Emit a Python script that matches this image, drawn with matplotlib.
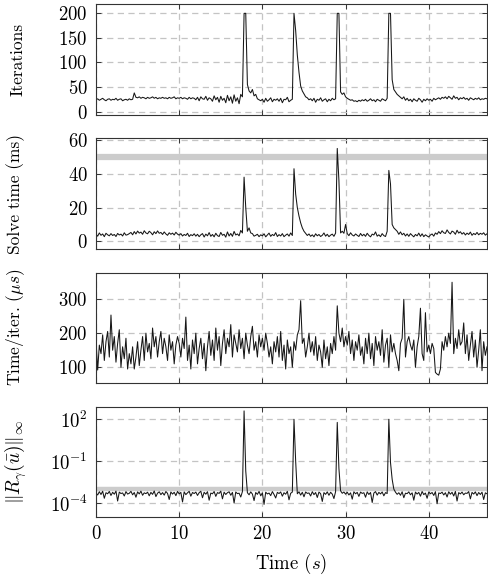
import numpy as np
import matplotlib
matplotlib.use("Agg")
import matplotlib.pyplot as plt
from matplotlib.ticker import FixedLocator, NullLocator

plt.rcParams.update({
    "font.family": "serif",
    "font.serif": ["cmr10"],
    "mathtext.fontset": "cm",
    "axes.formatter.use_mathtext": True,
    "axes.unicode_minus": True,
})

# sampling step of the recorded data (s)
dt = 0.2

iterations = [
    24, 26, 23, 25, 27, 24, 22, 25, 26, 23,
    25, 24, 27, 23, 25, 26, 22, 24, 25, 23,
    26, 24, 25, 38, 29, 28, 30, 27, 29, 28,
    26, 29, 27, 28, 30, 27, 29, 26, 28, 27,
    29, 27, 28, 26, 29, 27, 28, 30, 26, 28,
    27, 29, 26, 28, 27, 25, 29, 26, 28, 27,
    24, 29, 22, 30, 26, 25, 31, 23, 28, 26,
    21, 32, 24, 29, 19, 31, 23, 27, 18, 33,
    22, 30, 17, 34, 21, 28, 16, 35, 30, 200,
    200, 55, 42, 38, 45, 32, 35, 26, 24, 22,
    25, 19, 27, 21, 24, 28, 20, 25, 23, 26,
    21, 27, 18, 25, 24, 29, 20, 23, 25, 200,
    165, 115, 80, 52, 42, 36, 30, 28, 24, 26,
    22, 27, 19, 25, 23, 28, 21, 24, 26, 20,
    25, 22, 27, 24, 26, 200, 200, 40, 35, 38,
    30, 27, 25, 23, 24, 21, 22, 20, 23, 21,
    24, 22, 25, 21, 23, 26, 22, 24, 20, 25,
    23, 21, 26, 24, 22, 27, 200, 200, 65, 45,
    40, 35, 32, 29, 26, 30, 23, 27, 22, 25,
    20, 26, 23, 21, 27, 24, 19, 25, 22, 26,
    23, 25, 21, 27, 24, 26, 28, 25, 29, 27,
    30, 26, 31, 28, 25, 32, 27, 29, 24, 28,
    26, 29, 25, 27, 23, 28, 26, 24, 27, 25,
    28, 24, 26, 25, 27, 26,
]

solve_time_ms = [
    4.2, 3.1, 5.0, 3.6, 4.4, 2.8, 4.8, 3.9, 3.3, 4.6,
    3.5, 4.1, 2.9, 4.7, 3.8, 4.3, 3.2, 5.1, 3.7, 4.0,
    4.6, 5.3, 3.9, 5.8, 4.4, 6.1, 4.9, 5.5, 4.2, 6.3,
    5.0, 4.5, 6.0, 5.2, 3.9, 5.7, 4.6, 6.2, 4.8, 5.3,
    4.1, 5.6, 4.4, 3.6, 5.1, 4.2, 4.9, 3.8, 5.4, 4.3,
    3.7, 4.6, 3.2, 4.1, 3.5, 4.8, 2.9, 4.0, 3.4, 4.5,
    3.1, 4.2, 2.8, 3.9, 4.6, 2.6, 4.3, 3.3, 5.2, 3.0,
    4.1, 2.7, 4.8, 3.4, 2.9, 5.3, 3.6, 4.2, 2.5, 5.6,
    3.2, 4.7, 3.0, 5.9, 3.8, 4.4, 3.3, 6.5, 5.0, 38.0,
    20.0, 6.0, 8.0, 5.0, 4.6, 3.1, 3.6, 4.2, 2.8, 3.9,
    3.3, 4.5, 2.7, 3.8, 4.9, 3.0, 4.1, 3.4, 5.2, 2.9,
    4.0, 3.2, 4.6, 2.8, 3.7, 4.4, 3.1, 5.0, 3.5, 43.0,
    28.0, 20.0, 15.0, 11.0, 8.0, 6.0, 4.8, 3.5, 4.4, 3.0,
    3.9, 2.7, 4.5, 3.3, 4.1, 2.9, 3.6, 5.0, 3.1, 4.2,
    2.8, 3.7, 4.3, 3.0, 4.9, 55.0, 36.0, 5.0, 6.0, 4.8,
    10.0, 4.6, 3.4, 5.1, 3.8, 3.2, 4.4, 3.6, 2.9, 4.7,
    3.3, 4.2, 3.0, 4.8, 3.5, 2.7, 4.3, 3.8, 5.6, 3.1,
    3.9, 2.8, 4.6, 3.4, 2.9, 6.0, 42.0, 34.0, 10.0, 8.0,
    7.0, 6.0, 4.2, 5.6, 3.9, 4.8, 3.2, 4.4, 3.0, 4.6,
    3.6, 2.7, 4.1, 3.3, 4.9, 3.0, 4.5, 2.8, 3.9, 3.2,
    2.6, 3.8, 4.4, 3.1, 5.0, 4.2, 5.8, 4.6, 6.3, 5.1,
    4.7, 6.8, 5.3, 4.4, 6.1, 5.5, 4.2, 6.6, 4.9, 5.7,
    4.3, 5.2, 3.8, 4.9, 4.1, 5.5, 3.6, 4.7, 4.0, 5.3,
    3.9, 4.8, 4.2, 5.1, 3.7, 4.5,
]

time_per_iter_us = [
    180, 92, 165, 140, 195, 120, 175, 205, 130, 253,
    150, 190, 115, 170, 210, 100, 160, 125, 185, 95,
    140, 110, 160, 95, 130, 175, 105, 150, 190, 120,
    200, 145, 170, 125, 215, 160, 190, 130, 175, 205,
    140, 185, 160, 120, 195, 150, 175, 110, 165, 190,
    170, 130, 185, 155, 247, 120, 165, 95, 180, 140,
    200, 110, 155, 185, 125, 170, 90, 160, 205, 135,
    180, 120, 215, 150, 190, 105, 170, 210, 140, 185,
    160, 225, 130, 195, 170, 145, 210, 155, 185, 125,
    200, 165, 140, 190, 220, 150, 175, 130, 195, 160,
    185, 150, 200, 170, 130, 160, 110, 175, 145, 190,
    130, 205, 120, 165, 95, 180, 140, 160, 100, 175,
    150, 195, 210, 295, 170, 185, 130, 160, 200, 145,
    175, 135, 190, 120, 165, 145, 100, 180, 125, 160,
    105, 170, 140, 190, 150, 280, 200, 175, 215, 160,
    190, 165, 205, 140, 180, 120, 175, 150, 195, 135,
    160, 110, 185, 140, 200, 125, 170, 105, 190, 150,
    175, 135, 210, 115, 165, 185, 100, 195, 145, 170,
    140, 120, 90, 170, 185, 299, 130, 175, 190, 165,
    150, 180, 100, 160, 190, 273, 140, 120, 260, 145,
    165, 140, 170, 155, 85, 80, 77, 95, 175, 150,
    190, 160, 200, 170, 349, 140, 185, 155, 210, 165,
    175, 230, 140, 195, 120, 165, 205, 130, 180, 100,
    150, 210, 90, 175, 135, 160,
]

# residual norm, in units of 1e-4
residual_e4 = [
    5.2, 3.8, 6.5, 4.1, 7.0, 2.2, 5.5, 4.6, 6.8, 3.5,
    5.9, 4.3, 7.2, 1.4, 6.1, 4.8, 5.3, 3.2, 6.6, 4.4,
    5.0, 6.9, 3.9, 5.7, 2.6, 6.3, 4.5, 7.1, 3.6, 5.4,
    4.7, 6.0, 3.3, 5.8, 4.2, 7.3, 2.9, 5.1, 6.4, 4.0,
    5.6, 3.7, 6.7, 4.9, 1.8, 6.2, 4.4, 5.9, 3.4, 6.8,
    4.5, 5.8, 1.2, 6.3, 4.0, 5.4, 6.9, 3.1, 5.7, 4.8,
    6.1, 3.5, 5.5, 7.0, 2.4, 5.9, 4.3, 6.5, 1.6, 5.2,
    4.6, 6.7, 3.0, 5.6, 4.9, 7.1, 2.0, 6.0, 4.1, 5.5,
    6.4, 3.6, 5.8, 1.0, 6.2, 4.7, 5.1, 2.7, 6.6, 4000000,
    200, 5.5, 3.9, 6.3, 4.4, 1.5, 5.7, 4.2, 6.8, 3.3,
    5.4, 0.8, 6.0, 4.5, 5.2, 3.4, 6.6, 4.1, 2.3, 5.8,
    4.8, 6.2, 3.1, 5.5, 4.3, 6.9, 1.7, 5.0, 6.1, 1000000,
    1000, 4.6, 6.4, 3.7, 5.9, 2.8, 6.2, 4.9, 5.3, 3.2,
    6.5, 4.0, 5.7, 2.5, 6.1, 4.7, 1.3, 5.6, 4.2, 6.3,
    3.6, 5.9, 4.4, 2.1, 6.6, 600000, 300, 7.5, 5.0, 6.2,
    4.3, 6.0, 3.8, 5.4, 1.9, 6.4, 4.6, 5.8, 3.0, 6.1,
    4.9, 5.5, 2.6, 6.3, 4.1, 5.7, 1.1, 5.2, 6.6, 3.7,
    5.8, 4.5, 6.2, 3.3, 5.6, 4.8, 1000000, 800, 50, 10,
    6.0, 4.2, 5.5, 3.6, 6.4, 2.4, 5.1, 4.7, 6.3, 3.9,
    5.4, 1.6, 6.1, 4.4, 5.8, 3.1, 6.7, 4.0, 5.2, 2.2,
    6.2, 4.6, 5.7, 3.5, 6.5, 0.9, 5.3, 4.8, 6.0, 3.8,
    5.5, 2.7, 6.4, 4.3, 5.9, 3.2, 6.8, 1.4, 5.6, 4.5,
    6.1, 3.9, 5.2, 4.9, 6.6, 2.0, 5.8, 4.4, 6.3, 3.4,
    5.7, 4.1, 6.0, 1.8, 5.4, 4.6,
]

solve_time_limit_ms = 50
residual_tol = 1e-3

x_ticks = [0, 10, 20, 30, 40]
iter_ticks = [0, 50, 100, 150, 200]
solve_ticks = [0, 20, 40, 60]
tpi_ticks = [100, 200, 300]
res_ticks = [1e2, 1e-1, 1e-4]

t = np.arange(len(iterations)) * dt
residual = np.array(residual_e4) * 1e-4

W, H = 489, 582
fig = plt.figure(figsize=(W / 100, H / 100), dpi=100)

left = 96 / W
width = (487 - 96) / W
panels_px = [(4, 115), (138.3, 249), (272.7, 383), (406.7, 517)]
label_x_px = [18, 16, 16, 16]
label_sizes = [12.5, 12.5, 12.5, 14]
axes = []
for top, bot in panels_px:
    ax = fig.add_axes([left, (H - bot) / H, width, (bot - top) / H])
    axes.append(ax)

line_kw = dict(color="#161616", lw=0.75)
grid_kw = dict(color="#c4c4c4", lw=0.9, linestyle=(0, (5, 3.5)))
band_color = "#cccccc"

ax1, ax2, ax3, ax4 = axes

ax1.plot(t, iterations, **line_kw)
ax1.set_ylim(-7, 219)
ax1.yaxis.set_major_locator(FixedLocator(iter_ticks))
ax1.set_ylabel("Iterations")

ax2.axhline(solve_time_limit_ms, color=band_color, lw=4.5, zorder=1)
ax2.plot(t, solve_time_ms, **line_kw)
ax2.set_ylim(-4.5, 61)
ax2.yaxis.set_major_locator(FixedLocator(solve_ticks))
ax2.set_ylabel("Solve time (ms)")

ax3.plot(t, time_per_iter_us, **line_kw)
ax3.set_ylim(54, 377)
ax3.yaxis.set_major_locator(FixedLocator(tpi_ticks))
ax3.set_ylabel(r"Time/iter. ($\mu s$)")

ax4.axhline(residual_tol, color=band_color, lw=3.2, zorder=1)
ax4.plot(t, residual, **line_kw)
ax4.set_yscale("log")
ax4.set_ylim(1e-5, 8e2)
ax4.yaxis.set_major_locator(FixedLocator(res_ticks))
ax4.yaxis.set_minor_locator(NullLocator())
ax4.set_ylabel(r"$\|R_\gamma(\bar{u})\|_\infty$")
ax4.set_xlabel(r"Time $(s)$", fontsize=13.5, labelpad=6)

for i, ax in enumerate(axes):
    ax.set_xlim(0, 47)
    ax.xaxis.set_major_locator(FixedLocator(x_ticks))
    ax.grid(True, which="major", **grid_kw)
    ax.set_axisbelow(True)
    ax.tick_params(direction="in", length=3.5, width=0.7, top=True, right=True,
                   labelsize=13.5, pad=6, colors="#333333", labelcolor="black")
    ax.tick_params(which="minor", length=0)
    for s in ax.spines.values():
        s.set_linewidth(0.8)
        s.set_color("#333333")
    lab = ax.yaxis.label
    lab.set_fontsize(label_sizes[i])
    lab.set_verticalalignment("center")
    ax.yaxis.set_label_coords((label_x_px[i] - 96) / (487 - 96), 0.5)
    if i < 3:
        ax.tick_params(labelbottom=False)

fig.savefig("out.png", dpi=100)
